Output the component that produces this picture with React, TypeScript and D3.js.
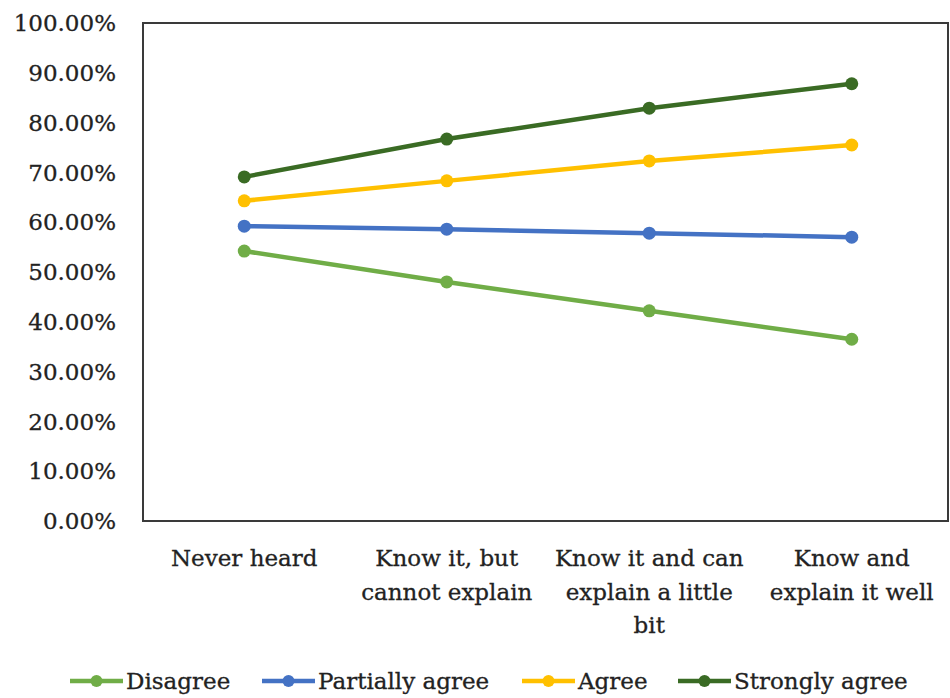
import React, { useEffect, useRef } from "react";
import * as d3 from "d3";

const categories = ["Never heard", "Know it, but cannot explain", "Know it and can explain a little bit", "Know and explain it well"];
const categoryLines = [["Never heard"], ["Know it, but", "cannot explain"], ["Know it and can", "explain a little", "bit"], ["Know and", "explain it well"]];
const seriesNames = ["Disagree", "Partially agree", "Agree", "Strongly agree"];
const seriesColors = ["#70AD47", "#4472C4", "#FFC000", "#3A6B24"];
const disagree = [0.542, 0.48, 0.422, 0.365];
const partiallyAgree = [0.592, 0.586, 0.578, 0.57];
const agree = [0.643, 0.683, 0.723, 0.755];
const stronglyAgree = [0.691, 0.767, 0.829, 0.878];
const yTicks = [0, 0.1, 0.2, 0.3, 0.4, 0.5, 0.6, 0.7, 0.8, 0.9, 1.0];
const legendX = [70, 262, 522, 678];

const FONT = "'DejaVu Serif', serif";

export default function App() {
  const ref = useRef<SVGSVGElement | null>(null);

  useEffect(() => {
    const svg = d3.select(ref.current);
    svg.selectAll("*").remove();

    const left = 143, right = 948, top = 23, bottom = 521;
    const x = d3.scaleBand().domain(categories).range([left, 953]);
    const y = d3.scaleLinear().domain([0, 1]).range([bottom, top]);
    const cx = (c: string) => (x(c) as number) + x.bandwidth() / 2;

    svg.append("rect")
      .attr("x", left).attr("y", top)
      .attr("width", right - left).attr("height", bottom - top)
      .attr("fill", "none").attr("stroke", "#3a3a3a").attr("stroke-width", 2);

    // y tick labels
    svg.append("g").selectAll("text").data(yTicks).enter().append("text")
      .attr("x", 116).attr("y", (d) => y(d)).attr("dy", "0.36em")
      .attr("text-anchor", "end")
      .attr("font-family", FONT).attr("font-size", 23).attr("fill", "#222")
      .attr("stroke", "#222").attr("stroke-width", 0.3)
      .text((d) => d3.format(".2%")(d));

    // category labels
    const cat = svg.append("g").selectAll("text").data(categories).enter().append("text")
      .attr("text-anchor", "middle")
      .attr("font-family", FONT).attr("font-size", 23).attr("fill", "#222")
      .attr("stroke", "#222").attr("stroke-width", 0.3);
    cat.each(function (c, i) {
      d3.select(this).selectAll("tspan").data(categoryLines[i]).enter().append("tspan")
        .attr("x", cx(c)).attr("y", (_d, j) => 566 + j * 33.5)
        .text((d) => d);
    });

    const allSeries = [disagree, partiallyAgree, agree, stronglyAgree];
    const line = d3.line<number>()
      .x((_d, i) => cx(categories[i]))
      .y((d) => y(d));

    allSeries.forEach((vals, s) => {
      const g = svg.append("g");
      g.append("path").datum(vals)
        .attr("d", line).attr("fill", "none")
        .attr("stroke", seriesColors[s]).attr("stroke-width", 4.5)
        .attr("stroke-linecap", "round");
      g.selectAll("circle").data(vals).enter().append("circle")
        .attr("cx", (_d, i) => cx(categories[i])).attr("cy", (d) => y(d))
        .attr("r", 6.5).attr("fill", seriesColors[s]);
    });

    // legend
    const lg = svg.append("g").selectAll("g").data(seriesNames).enter().append("g")
      .attr("transform", (_d, i) => `translate(${legendX[i]},681)`);
    lg.append("line").attr("x1", 0).attr("x2", 53).attr("y1", 0).attr("y2", 0)
      .attr("stroke", (_d, i) => seriesColors[i]).attr("stroke-width", 4.5);
    lg.append("circle").attr("cx", 26.5).attr("cy", 0).attr("r", 6)
      .attr("fill", (_d, i) => seriesColors[i]);
    lg.append("text").attr("x", 56).attr("y", 0).attr("dy", "0.36em")
      .attr("font-family", FONT).attr("font-size", 23).attr("fill", "#222")
      .attr("stroke", "#222").attr("stroke-width", 0.3)
      .text((d) => d);
  }, []);

  return (
    <svg ref={ref} width={950} height={698} viewBox="0 0 950 698"
      style={{ position: "absolute", left: 0, top: 0, background: "#fff" }} />
  );
}
